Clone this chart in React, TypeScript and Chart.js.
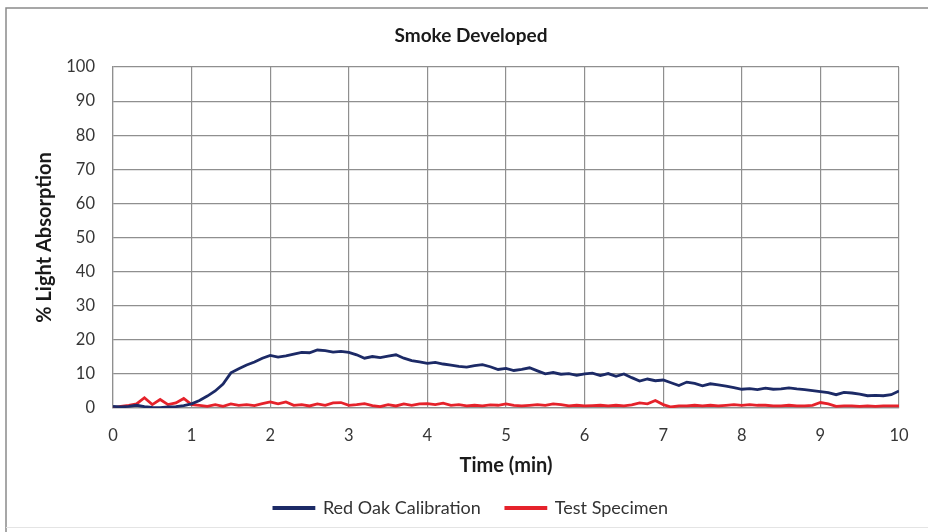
import React, { useEffect, useRef } from "react";
import { Chart, registerables } from "chart.js";

Chart.register(...registerables);

const timeMin = [
  0, 0.1, 0.2, 0.3, 0.4, 0.5, 0.6, 0.7, 0.8, 0.9,
  1, 1.1, 1.2, 1.3, 1.4, 1.5, 1.6, 1.7, 1.8, 1.9,
  2, 2.1, 2.2, 2.3, 2.4, 2.5, 2.6, 2.7, 2.8, 2.9,
  3, 3.1, 3.2, 3.3, 3.4, 3.5, 3.6, 3.7, 3.8, 3.9,
  4, 4.1, 4.2, 4.3, 4.4, 4.5, 4.6, 4.7, 4.8, 4.9,
  5, 5.1, 5.2, 5.3, 5.4, 5.5, 5.6, 5.7, 5.8, 5.9,
  6, 6.1, 6.2, 6.3, 6.4, 6.5, 6.6, 6.7, 6.8, 6.9,
  7, 7.1, 7.2, 7.3, 7.4, 7.5, 7.6, 7.7, 7.8, 7.9,
  8, 8.1, 8.2, 8.3, 8.4, 8.5, 8.6, 8.7, 8.8, 8.9,
  9, 9.1, 9.2, 9.3, 9.4, 9.5, 9.6, 9.7, 9.8, 9.9,
  10,
];

const redOakCalibration = [
  0.5, 0.3, 0.5, 0.8, 0.4, 0.2, 0.1, 0.3, 0.4, 0.7,
  1.2, 2.2, 3.5, 5.0, 7.0, 10.3, 11.5, 12.6, 13.5, 14.6,
  15.4, 14.9, 15.3, 15.8, 16.3, 16.2, 17.0, 16.8, 16.4, 16.6,
  16.3, 15.6, 14.6, 15.1, 14.8, 15.2, 15.6, 14.6, 13.9, 13.5,
  13.1, 13.4, 12.9, 12.6, 12.2, 12.0, 12.4, 12.7, 12.1, 11.3,
  11.6, 11.0, 11.3, 11.8, 10.9, 10.0, 10.4, 9.9, 10.1, 9.6,
  10.0, 10.2, 9.5, 10.1, 9.3, 10.0, 8.9, 7.9, 8.5, 8.0,
  8.2, 7.4, 6.6, 7.6, 7.2, 6.5, 7.1, 6.8, 6.4, 6.0,
  5.5, 5.7, 5.4, 5.8, 5.5, 5.6, 5.9, 5.6, 5.4, 5.1,
  4.8, 4.5, 3.9, 4.6, 4.4, 4.1, 3.6, 3.7, 3.6, 3.9,
  5.0,
];

const testSpecimen = [
  0, 0.5, 0.8, 1.2, 3.0, 1.0, 2.5, 1.0, 1.5, 2.8,
  1.0, 0.8, 0.5, 1.0, 0.5, 1.2, 0.8, 1.0, 0.7, 1.3,
  1.8, 1.2, 1.8, 0.8, 1.0, 0.6, 1.2, 0.8, 1.5, 1.6,
  0.8, 1.0, 1.3, 0.7, 0.4, 1.0, 0.6, 1.2, 0.8, 1.2,
  1.3, 1.0, 1.4, 0.8, 1.0, 0.6, 0.8, 0.6, 0.9, 0.8,
  1.2, 0.8, 0.6, 0.8, 1.0, 0.8, 1.2, 1.0, 0.6, 0.8,
  0.6, 0.7, 0.8, 0.6, 0.8, 0.6, 0.9, 1.5, 1.2, 2.2,
  1.0, 0.3, 0.6, 0.6, 0.8, 0.6, 0.8, 0.6, 0.8, 1.0,
  0.8, 1.0, 0.8, 0.8, 0.6, 0.6, 0.8, 0.6, 0.6, 0.8,
  1.6, 1.2, 0.5, 0.6, 0.6, 0.5, 0.6, 0.5, 0.6, 0.6,
  0.6,
];

const chartTitle = "Smoke Developed";
const xTitle = "Time (min)";
const yTitle = "% Light Absorption";
const seriesNames = ["Red Oak Calibration", "Test Specimen"];

const FONT = "Lato, 'Open Sans', sans-serif";

const framePlugin = {
  id: "frame",
  beforeDraw(chart: any) {
    const { ctx, width, height } = chart;
    ctx.save();
    ctx.fillStyle = "#ffffff";
    ctx.fillRect(0, 0, width, height);
    ctx.strokeStyle = "#8a8a8a";
    ctx.lineWidth = 1.5;
    ctx.beginPath();
    ctx.moveTo(6, height);
    ctx.lineTo(6, 8);
    ctx.lineTo(width, 8);
    ctx.stroke();
    ctx.strokeStyle = "#e4e4e4";
    ctx.lineWidth = 1;
    ctx.beginPath();
    ctx.moveTo(6, 527.5);
    ctx.lineTo(width, 527.5);
    ctx.stroke();
    ctx.restore();
  },
};

export default function App() {
  const canvasRef = useRef<HTMLCanvasElement | null>(null);

  useEffect(() => {
    if (!canvasRef.current) return;
    const toPts = (ys: number[]) => timeMin.map((t, i) => ({ x: t, y: ys[i] }));
    const chart = new Chart(canvasRef.current, {
      type: "line",
      data: {
        datasets: [
          {
            label: seriesNames[0],
            data: toPts(redOakCalibration),
            borderColor: "#1c2a66",
            backgroundColor: "#1c2a66",
            borderWidth: 2.8,
            pointRadius: 0,
            tension: 0,
          },
          {
            label: seriesNames[1],
            data: toPts(testSpecimen),
            borderColor: "#e5222b",
            backgroundColor: "#e5222b",
            borderWidth: 2.8,
            pointRadius: 0,
            tension: 0,
          },
        ],
      },
      options: {
        animation: false,
        responsive: true,
        maintainAspectRatio: false,
        layout: { padding: { left: 43, right: 29, top: 0, bottom: 5 } },
        scales: {
          x: {
            type: "linear",
            min: 0,
            max: 10,
            afterFit(scale: any) {
              scale.height = 66;
            },
            ticks: {
              stepSize: 1,
              padding: 17.5,
              color: "#363636",
              font: { family: FONT, size: 16.5 },
            },
            grid: { color: "#8f8f8f", lineWidth: 1.2, drawTicks: false },
            border: { color: "#8f8f8f", width: 1.2 },
            title: {
              display: true,
              text: xTitle,
              color: "#1a1a1a",
              font: { family: FONT, size: 20, weight: "bold" },
              padding: { top: 0, bottom: -4 },
            },
          },
          y: {
            min: 0,
            max: 100,
            afterFit(scale: any) {
              scale.width = 70;
            },
            ticks: {
              stepSize: 10,
              padding: 18,
              color: "#363636",
              font: { family: FONT, size: 16.5 },
            },
            grid: { color: "#8f8f8f", lineWidth: 1.2, drawTicks: false },
            border: { color: "#8f8f8f", width: 1.2 },
            title: {
              display: true,
              text: yTitle,
              color: "#1a1a1a",
              font: { family: FONT, size: 20, weight: "bold" },
              padding: { top: -10, bottom: 0 },
            },
          },
        },
        plugins: {
          title: {
            display: true,
            text: chartTitle,
            color: "#1a1a1a",
            font: { family: FONT, size: 19, weight: "bold" },
            padding: { top: 24.6, bottom: 19.6 },
          },
          legend: {
            display: true,
            position: "bottom",
            labels: {
              boxWidth: 40,
              boxHeight: 1,
              padding: 25,
              color: "#333333",
              font: { family: FONT, size: 18 },
            },
          },
          tooltip: { enabled: false },
        },
      },
      plugins: [framePlugin],
    });
    return () => chart.destroy();
  }, []);

  return (
    <div style={{ position: "absolute", left: 0, top: 0, width: 928, height: 532 }}>
      <canvas ref={canvasRef} />
    </div>
  );
}
